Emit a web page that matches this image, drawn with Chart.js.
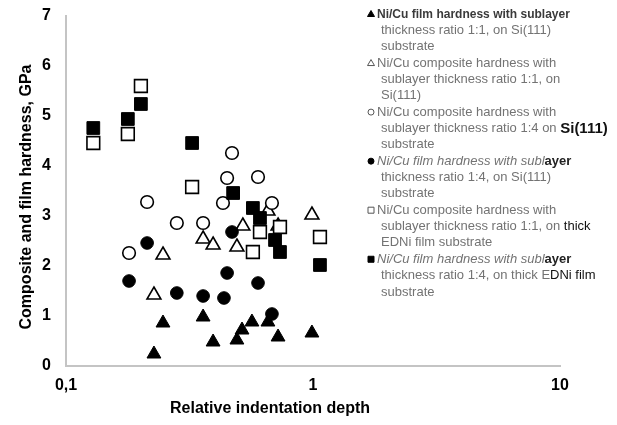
<!DOCTYPE html>
<html>
<head>
<meta charset="utf-8">
<script src="https://cdn.jsdelivr.net/npm/chart.js@4/dist/chart.umd.min.js"></script>
<style>
  html, body { margin: 0; padding: 0; background: #ffffff; }
  #wrap { width: 617px; height: 425px; position: relative; }
</style>
</head>
<body>
<div id="wrap"><canvas id="chart" width="617" height="425"></canvas></div>
<script>
// Axis ticks
const xTickValues = [0.1, 1, 10];
const xTickLabels = ['0,1', '1', '10'];
const yTickValues = [0, 1, 2, 3, 4, 5, 6, 7];
const yTickLabels = ['0', '1', '2', '3', '4', '5', '6', '7'];

// Ni/Cu film hardness, sublayer ratio 1:1, on Si(111)
const filmSi11X = [0.227, 0.247, 0.359, 0.394, 0.492, 0.516, 0.566, 0.657, 0.722, 0.99];
const filmSi11Y = [0.24, 0.86, 0.98, 0.48, 0.52, 0.72, 0.88, 0.88, 0.58, 0.66];

// Ni/Cu composite hardness, sublayer ratio 1:1, on Si(111)
const compSi11X = [0.227, 0.247, 0.359, 0.394, 0.492, 0.52, 0.657, 0.722, 0.99];
const compSi11Y = [1.42, 2.22, 2.54, 2.42, 2.38, 2.8, 3.1, 2.8, 3.02];

// Ni/Cu composite hardness, sublayer ratio 1:4, on Si(111)
const compSi14X = [0.18, 0.213, 0.281, 0.359, 0.432, 0.449, 0.47, 0.599, 0.682];
const compSi14Y = [2.26, 3.28, 2.86, 2.86, 3.26, 3.76, 4.26, 3.78, 3.26];

// Ni/Cu film hardness, sublayer ratio 1:4, on Si(111)
const filmSi14X = [0.18, 0.213, 0.281, 0.359, 0.436, 0.449, 0.47, 0.599, 0.682];
const filmSi14Y = [1.7, 2.46, 1.46, 1.4, 1.36, 1.86, 2.68, 1.66, 1.04];

// Ni/Cu composite hardness, sublayer ratio 1:1, on thick EDNi film
const compEdni11X = [0.129, 0.178, 0.201, 0.324, 0.571, 0.61, 0.735, 1.067];
const compEdni11Y = [4.46, 4.64, 5.6, 3.58, 2.28, 2.68, 2.78, 2.58];

// Ni/Cu film hardness, sublayer ratio 1:4, on thick EDNi film
const filmEdni14X = [0.129, 0.178, 0.201, 0.324, 0.475, 0.571, 0.61, 0.702, 0.735, 1.067];
const filmEdni14Y = [4.76, 4.94, 5.24, 4.46, 3.46, 3.16, 2.96, 2.52, 2.28, 2.02];

// Legend text, one array of lines per series
const seriesLabels = [
  ['Ni/Cu film hardness with sublayer', 'thickness ratio 1:1, on Si(111)', 'substrate'],
  ['Ni/Cu composite hardness with', 'sublayer thickness ratio 1:1, on', 'Si(111)'],
  ['Ni/Cu composite hardness with', 'sublayer thickness ratio 1:4 on Si(111)', 'substrate'],
  ['Ni/Cu film hardness with sublayer', 'thickness ratio 1:4, on Si(111)', 'substrate'],
  ['Ni/Cu composite hardness with', 'sublayer thickness ratio 1:1, on thick', 'EDNi film substrate'],
  ['Ni/Cu film hardness with sublayer', 'thickness ratio 1:4, on thick EDNi film', 'substrate']
];

const xTitle = 'Relative indentation depth';
const yTitle = 'Composite and film hardness, GPa';

const FONT = '"Liberation Sans", Arial, Helvetica, sans-serif';

function toPoints(xs, ys) {
  return xs.map((x, i) => ({ x: x, y: ys[i] }));
}

const markerStyles = [
  { pointStyle: 'triangle', filled: true,  radius: 8 },
  { pointStyle: 'triangle', filled: false, radius: 8 },
  { pointStyle: 'circle',   filled: false, radius: 6.3 },
  { pointStyle: 'circle',   filled: true,  radius: 6.3 },
  { pointStyle: 'rect',     filled: false, radius: 9 },
  { pointStyle: 'rect',     filled: true,  radius: 9 }
];

const seriesData = [
  toPoints(filmSi11X, filmSi11Y),
  toPoints(compSi11X, compSi11Y),
  toPoints(compSi14X, compSi14Y),
  toPoints(filmSi14X, filmSi14Y),
  toPoints(compEdni11X, compEdni11Y),
  toPoints(filmEdni14X, filmEdni14Y)
];

const datasets = seriesData.map((pts, i) => {
  const m = markerStyles[i];
  return {
    label: seriesLabels[i].join(' '),
    data: pts,
    showLine: false,
    pointStyle: m.pointStyle,
    pointRadius: m.radius,
    pointHoverRadius: m.radius,
    pointBorderWidth: m.filled ? 1 : 1.6,
    pointBorderColor: '#000000',
    pointBackgroundColor: m.filled ? '#000000' : '#ffffff',
    order: seriesData.length - i
  };
});

// Axis titles placed by hand
const axisTitlePlugin = {
  id: 'axisTitles',
  afterDraw(chart) {
    const ctx = chart.ctx;
    ctx.save();
    ctx.fillStyle = '#000000';
    ctx.font = 'bold 16px ' + FONT;
    ctx.textAlign = 'center';
    ctx.textBaseline = 'middle';
    ctx.fillText(xTitle, 270, 409);
    ctx.translate(27, 197);
    ctx.rotate(-Math.PI / 2);
    ctx.fillText(yTitle, 0, 0);
    ctx.restore();
  }
};

// Multi-line legend drawn at the upper right of the plot
const legendPlugin = {
  id: 'wrappedLegend',
  afterDraw(chart) {
    const ctx = chart.ctx;
    const markX = 371, textX = 377, contX = 381, top = 14, step = 16.35;
    const grey = '#737373';
    const emphasis = {
      '2,1': { s: 'Si(111)', font: 'bold 15px ' + FONT, color: '#111111' },
      '3,0': { s: 'ayer', font: 'bold 13px ' + FONT, color: '#222222' },
      '4,1': { s: 'thick', font: '13px ' + FONT, color: '#111111' },
      '5,0': { s: 'ayer', font: 'bold 13px ' + FONT, color: '#222222' },
      '5,1': { s: 'DNi film', font: '13px ' + FONT, color: '#111111' }
    };
    ctx.save();
    ctx.textBaseline = 'middle';
    ctx.textAlign = 'left';
    let line = 0;
    seriesLabels.forEach((lines, i) => {
      const m = markerStyles[i];
      const y0 = top + line * step;
      // marker
      ctx.fillStyle = m.filled ? '#000000' : '#ffffff';
      ctx.strokeStyle = m.filled ? '#000000' : '#555555';
      ctx.lineWidth = 1;
      ctx.beginPath();
      if (m.pointStyle === 'triangle') {
        ctx.moveTo(markX, y0 - 3.5);
        ctx.lineTo(markX + 3.5, y0 + 2.5);
        ctx.lineTo(markX - 3.5, y0 + 2.5);
        ctx.closePath();
      } else if (m.pointStyle === 'circle') {
        ctx.arc(markX, y0, 3, 0, Math.PI * 2);
      } else {
        ctx.rect(markX - 3, y0 - 3, 6, 6);
      }
      ctx.fill();
      ctx.stroke();

      lines.forEach((txt, j) => {
        const y = top + line * step;
        const x = j === 0 ? textX : contX;
        const italic = (i === 3 || i === 5) && j === 0;
        const baseFont = (italic ? 'italic ' : '') + '13px ' + FONT;
        const baseColor = (i === 0 && j === 0) ? '#3a3a3a' : grey;
        const em = emphasis[i + ',' + j];
        if (em && txt.endsWith(em.s)) {
          const head = txt.slice(0, txt.length - em.s.length);
          ctx.font = baseFont;
          ctx.fillStyle = baseColor;
          ctx.fillText(head, x, y);
          const w = ctx.measureText(head).width;
          ctx.font = em.font;
          ctx.fillStyle = em.color;
          ctx.fillText(em.s, x + w, y);
        } else if (i === 0 && j === 0) {
          // heavy first line, kept to its regular width
          ctx.font = baseFont;
          const wReg = ctx.measureText(txt).width;
          ctx.font = 'bold ' + baseFont;
          ctx.fillStyle = baseColor;
          ctx.fillText(txt, x, y, wReg);
        } else {
          ctx.font = baseFont;
          ctx.fillStyle = baseColor;
          ctx.fillText(txt, x, y);
        }
        line++;
      });
    });
    ctx.restore();
  }
};

new Chart(document.getElementById('chart'), {
  type: 'scatter',
  data: { datasets: datasets },
  options: {
    responsive: false,
    animation: false,
    devicePixelRatio: 1,
    layout: { padding: { top: 16, right: 57, bottom: 0, left: 0 } },
    plugins: {
      legend: { display: false },
      tooltip: { enabled: false },
      title: { display: false }
    },
    scales: {
      x: {
        type: 'logarithmic',
        position: 'bottom',
        min: 0.1,
        max: 10,
        grid: { display: false, drawTicks: false },
        border: { display: true, color: '#c4c4c4', width: 2 },
        ticks: {
          autoSkip: false,
          maxRotation: 0,
          padding: 10,
          color: '#000000',
          font: { family: FONT, size: 16, weight: 'bold' },
          callback: (v, i) => xTickLabels[i]
        },
        afterBuildTicks: s => { s.ticks = xTickValues.map(v => ({ value: v })); },
        afterFit: s => { s.height = 59; s.paddingLeft = 0; s.paddingRight = 0; }
      },
      y: {
        type: 'linear',
        position: 'left',
        min: 0,
        max: 7,
        grid: { display: false, drawTicks: false },
        border: { display: true, color: '#c4c4c4', width: 2 },
        ticks: {
          padding: 15,
          color: '#000000',
          font: { family: FONT, size: 16, weight: 'bold' },
          callback: (v, i) => yTickLabels[i]
        },
        afterBuildTicks: s => { s.ticks = yTickValues.map(v => ({ value: v })); },
        afterFit: s => { s.width = 66; s.paddingTop = 0; s.paddingBottom = 0; }
      }
    }
  },
  plugins: [axisTitlePlugin, legendPlugin]
});
</script>
</body>
</html>
